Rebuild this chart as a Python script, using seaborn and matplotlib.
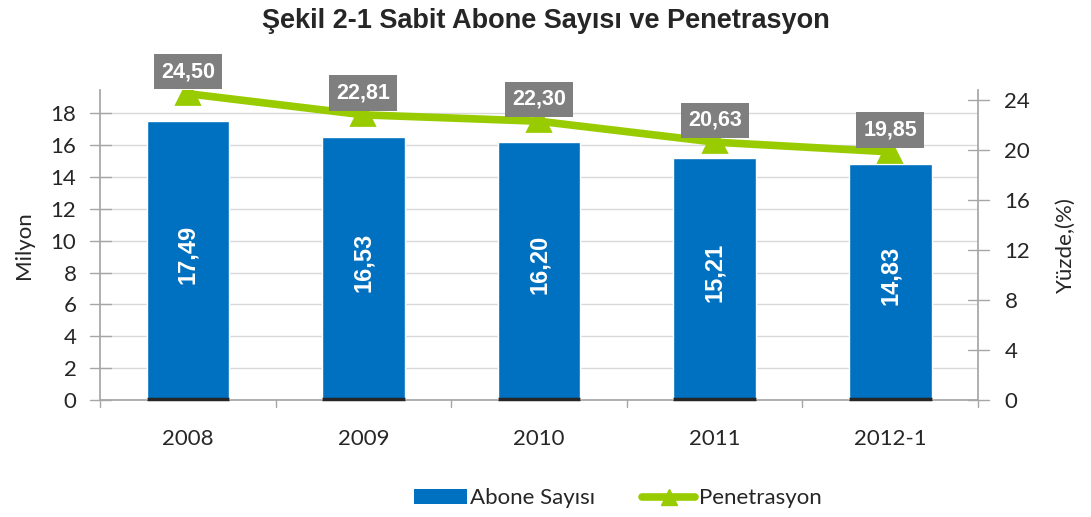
import numpy as np
import pandas as pd
import seaborn as sns
import matplotlib.pyplot as plt
from matplotlib.patches import Patch
from matplotlib.lines import Line2D

# chart values
years = ['2008', '2009', '2010', '2011', '2012-1']
abone = [17.49, 16.53, 16.20, 15.21, 14.83]
penetrasyon = [24.50, 22.81, 22.30, 20.63, 19.85]

df = pd.DataFrame({'Yil': years, 'Abone': abone, 'Penetrasyon': penetrasyon})

sns.set_theme(style='white')
plt.rcParams['font.family'] = ['Lato', 'DejaVu Sans']

blue = '#0070C0'
green = '#99CC00'
axis_grey = '#A6A6A6'

fig, ax = plt.subplots(figsize=(10.91, 5.17), dpi=100)
fig.subplots_adjust(left=0.0917, right=0.8965, top=0.826, bottom=0.226)

# Bars
sns.barplot(data=df, x='Yil', y='Abone', color=blue, width=0.47, saturation=1,
            ax=ax, zorder=3)
ax.set_xlim(-0.5, 4.5)
ax.set_ylim(0, 19.45)
ax.set_yticks(np.arange(0, 19, 2))
ax.yaxis.grid(True, color='#D9D9D9', linewidth=1)
ax.set_axisbelow(True)
ax.set_xlabel('')
ax.set_ylabel('Milyon', fontsize=16, labelpad=12)
ax.tick_params(axis='y', labelsize=16, length=0, pad=17)
ax.tick_params(axis='x', labelsize=16, length=0, pad=21)
for s in ['top', 'right']:
    ax.spines[s].set_visible(False)
ax.spines['left'].set_color(axis_grey)
ax.spines['bottom'].set_color(axis_grey)
# dark base line under each bar
for p in list(ax.patches):
    ax.plot([p.get_x(), p.get_x() + p.get_width()], [0.05, 0.05], color='#262626',
            lw=2.5, zorder=6, solid_capstyle='butt', clip_on=False)
# Excel-style cross ticks on left axis and category boundary ticks on x
for v in np.arange(0, 19, 2):
    ax.plot([-0.56, -0.44], [v, v], color=axis_grey, lw=1, clip_on=False, zorder=1)
for b in np.arange(-0.5, 4.6, 1):
    ax.plot([b, b], [0, -0.45], color=axis_grey, lw=1, clip_on=False, zorder=1)

# Bar value labels
for i, v in enumerate(abone):
    ax.text(i, v / 2 + 0.4, f'{v:.2f}'.replace('.', ','), rotation=90, color='white',
            fontsize=17, fontweight='bold', ha='center', va='center',
            family=['Liberation Sans', 'DejaVu Sans'], zorder=4)

# Line on secondary axis
ax2 = ax.twinx()
sns.pointplot(data=df, x='Yil', y='Penetrasyon', color=green, markers='^',
              markersize=13, linewidth=5.5, ax=ax2, zorder=5)
ax2.set_xlim(-0.5, 4.5)
ax2.set_ylim(0, 24.8)
ax2.set_yticks(np.arange(0, 25, 4))
ax2.set_ylabel('Yüzde,(%)', fontsize=16, labelpad=18)
ax2.tick_params(axis='y', labelsize=16, length=0, pad=19)
for s in ['top', 'left', 'bottom']:
    ax2.spines[s].set_visible(False)
ax2.spines['right'].set_color(axis_grey)
for v in np.arange(0, 25, 4):
    ax2.plot([4.44, 4.56], [v, v], color=axis_grey, lw=1, clip_on=False, zorder=1)

for i, v in enumerate(penetrasyon):
    ax2.text(i, v + 1.75, f'{v:.2f}'.replace('.', ','), color='white', fontsize=15.5,
             fontweight='bold', ha='center', va='center',
             family=['Liberation Sans', 'DejaVu Sans'], zorder=6,
             bbox=dict(boxstyle='square,pad=0.33', facecolor='#7F7F7F', edgecolor='none'))

fig.suptitle('Şekil 2-1 Sabit Abone Sayısı ve Penetrasyon', x=0.5, y=0.985,
             fontsize=19.5, fontweight='bold', family=['Liberation Sans', 'DejaVu Sans'])

handles = [Patch(facecolor=blue, edgecolor='none'),
           Line2D([0], [0], color=green, lw=5.5, marker='^', markersize=12)]
fig.legend(handles, ['Abone Sayısı', 'Penetrasyon'], loc='lower center',
           bbox_to_anchor=(0.566, -0.022), ncol=2, frameon=False, fontsize=16,
           handlelength=2.4, handleheight=0.6, handletextpad=0.15, columnspacing=2.1)

fig.savefig('out.png', dpi=100)
